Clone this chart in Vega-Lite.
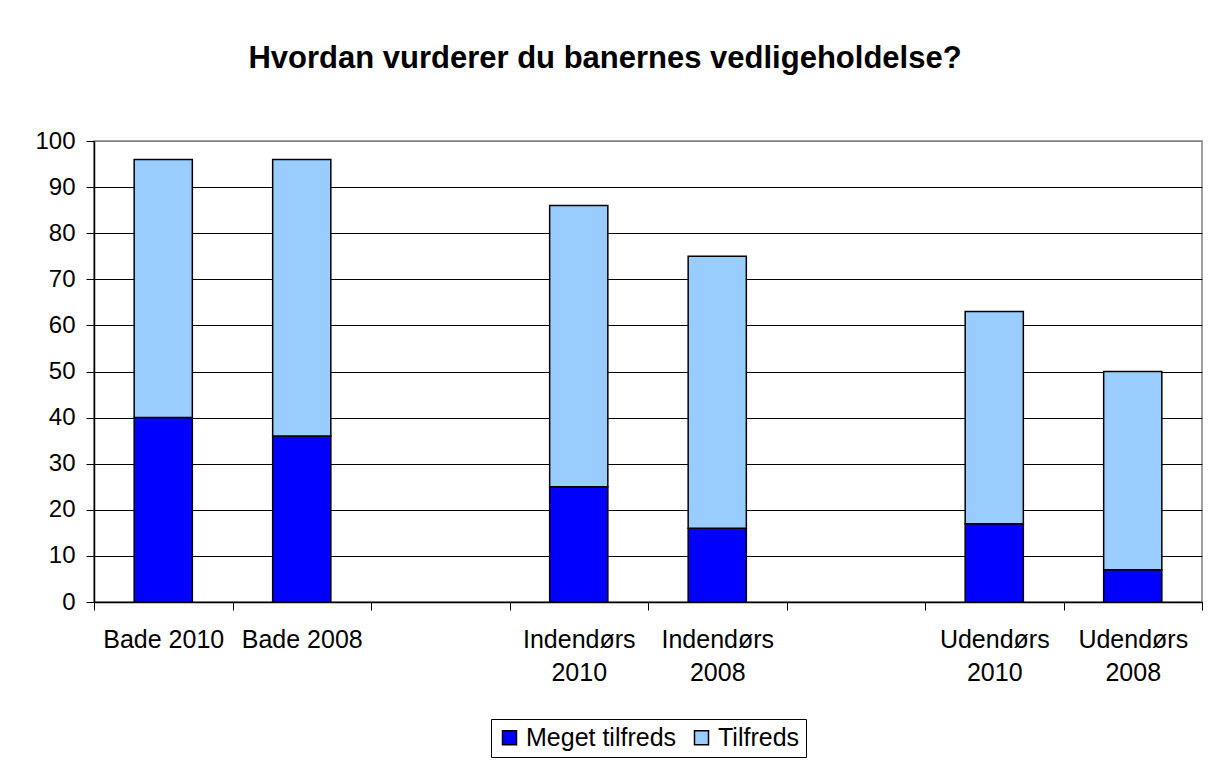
{
  "$schema": "https://vega.github.io/schema/vega-lite/v6.json",
  "autosize": "none",
  "width": 1108,
  "height": 461,
  "padding": {"left": 94, "top": 141, "right": 10, "bottom": 165},
  "background": "white",
  "config": {
    "font": "Liberation Sans",
    "view": {"stroke": "#808080", "strokeWidth": 1.5}
  },
  "title": {
    "text": "Hvordan vurderer du banernes vedligeholdelse?",
    "font": "Liberation Sans",
    "fontSize": 31,
    "fontWeight": "bold",
    "color": "black",
    "anchor": "middle",
    "frame": "group",
    "dx": -43,
    "baseline": "alphabetic",
    "offset": 30
  },
  "data": {
    "values": [
      {"cat": "Bade 2010", "serie": "Meget tilfreds", "value": 40},
      {"cat": "Bade 2010", "serie": "Tilfreds", "value": 56},
      {"cat": "Bade 2008", "serie": "Meget tilfreds", "value": 36},
      {"cat": "Bade 2008", "serie": "Tilfreds", "value": 60},
      {"cat": "Indendørs|2010", "serie": "Meget tilfreds", "value": 25},
      {"cat": "Indendørs|2010", "serie": "Tilfreds", "value": 61},
      {"cat": "Indendørs|2008", "serie": "Meget tilfreds", "value": 16},
      {"cat": "Indendørs|2008", "serie": "Tilfreds", "value": 59},
      {"cat": "Udendørs|2010", "serie": "Meget tilfreds", "value": 17},
      {"cat": "Udendørs|2010", "serie": "Tilfreds", "value": 46},
      {"cat": "Udendørs|2008", "serie": "Meget tilfreds", "value": 7},
      {"cat": "Udendørs|2008", "serie": "Tilfreds", "value": 43}
    ]
  },
  "mark": {"type": "bar", "width": {"band": 0.42}, "stroke": "black", "strokeWidth": 1.5},
  "encoding": {
    "x": {
      "field": "cat",
      "type": "nominal",
      "scale": {
        "domain": ["Bade 2010", "Bade 2008", "g1", "Indendørs|2010", "Indendørs|2008", "g2", "Udendørs|2010", "Udendørs|2008"],
        "paddingInner": 0,
        "paddingOuter": 0
      },
      "axis": {
        "title": null,
        "labelAngle": 0,
        "labelExpr": "(!isString(datum.value) || datum.value == 'g1' || datum.value == 'g2') ? '' : split(datum.value, '|')",
        "labelFontSize": 25,
        "labelColor": "black",
        "labelPadding": 17,
        "labelLineHeight": 33,
        "tickBand": "extent",
        "tickSize": 8,
        "tickColor": "black",
        "domainColor": "black",
        "domainWidth": 1.5,
        "labelFont": "Liberation Sans"
      }
    },
    "y": {
      "field": "value",
      "type": "quantitative",
      "stack": "zero",
      "scale": {"domain": [0, 100], "nice": false},
      "axis": {
        "title": null,
        "values": [0, 10, 20, 30, 40, 50, 60, 70, 80, 90, 100],
        "labelFontSize": 24,
        "labelColor": "black",
        "labelPadding": 11,
        "tickSize": 8,
        "tickColor": "black",
        "domainColor": "black",
        "domainWidth": 1.5,
        "grid": true,
        "gridColor": {"condition": {"test": "datum.value === 100", "value": "#808080"}, "value": "black"},
        "gridWidth": 1,
        "gridOpacity": 1,
        "labelFont": "Liberation Sans"
      }
    },
    "color": {
      "field": "serie",
      "type": "nominal",
      "scale": {"domain": ["Meget tilfreds", "Tilfreds"], "range": ["#0000FF", "#99CCFF"]},
      "legend": {
        "title": null,
        "orient": "none",
        "legendX": 397,
        "legendY": 578,
        "direction": "horizontal",
        "strokeColor": "black",
        "fillColor": "white",
        "padding": 6,
        "symbolType": "square",
        "symbolSize": 196,
        "symbolStrokeColor": "black",
        "symbolStrokeWidth": 1.5,
        "symbolOpacity": 1,
        "labelFontSize": 25,
        "labelColor": "black",
        "labelOffset": 4,
        "columnPadding": 12,
        "labelFont": "Liberation Sans"
      }
    },
    "order": {"field": "serie", "sort": "ascending"}
  }
}
